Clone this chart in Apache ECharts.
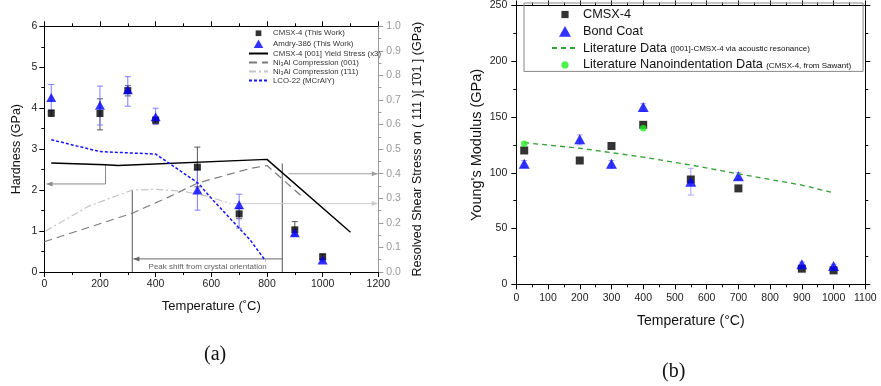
<!DOCTYPE html>
<html>
<head>
<meta charset="utf-8">
<script src="https://cdn.jsdelivr.net/npm/echarts@6/dist/echarts.min.js"></script>
<style>
  html, body { margin: 0; padding: 0; background: #fff; }
  #chart { width: 881px; height: 386px; }
</style>
</head>
<body>
<div id="chart"></div>
<script>
// ---- panel (a): hardness vs temperature ----
const tempA = [25, 200, 300, 400, 550, 700, 900, 1000];
const hardnessCmsx = [3.88, 3.87, 4.43, 3.71, 2.56, 1.42, 1.03, 0.37];
const hardnessCmsxLo = [3.8, 3.47, 4.3, 3.63, 2.08, 1.3, 0.9, 0.3];
const hardnessCmsxHi = [3.95, 4.23, 4.55, 3.78, 3.05, 1.55, 1.23, 0.44];
const hardnessAmdry = [4.26, 4.07, 4.45, 3.79, 2.0, 1.64, 0.96, 0.29];
const hardnessAmdryLo = [3.95, 3.59, 4.05, 3.6, 1.51, 1.07, 0.88, 0.25];
const hardnessAmdryHi = [4.58, 4.54, 4.77, 4.0, 2.5, 1.9, 1.05, 0.33];

const yieldT = [25, 220, 265, 800, 1100];
const yieldH = [2.66, 2.62, 2.6, 2.75, 0.97];
const ni3al001T = [0, 314, 450, 550, 740, 800, 930];
const ni3al001H = [0.74, 1.43, 1.84, 2.17, 2.53, 2.6, 1.82];
const ni3al111T = [5, 160, 316, 400, 500, 580, 670];
const ni3al111H = [1.0, 1.61, 2.0, 2.02, 1.97, 1.86, 1.67];
const lcoT = [25, 200, 400, 553, 600, 740, 795];
const lcoH = [3.23, 2.94, 2.88, 2.17, 1.8, 0.78, 0.27];

// guide lines drawn in (temperature, hardness) coordinates
const guideToHardness = [[220, 2.62], [220, 2.15], [8, 2.15]];
const peakShiftLeft = [[316, 2.0], [316, 0]];
const peakShiftRight = [[855, 2.65], [855, 0]];
const peakShiftArrow = [[855, 0.32], [320, 0.32]];
const rssArrowUpper = [[877, 2.4], [1198, 2.4]];
const rssArrowLower = [[680, 1.67], [1198, 1.67]];
const peakShiftLabel = [[587, 0.12]];

// ---- panel (b): Young's modulus vs temperature ----
const tempB = [25, 200, 300, 400, 550, 700, 900, 1000];
const modulusCmsx = [120, 111, 124, 143, 94, 86, 14, 12.5];
const modulusBond = [108, 130, 108, 159, 92, 97, 18, 16.5];
const modulusBondLo = [105, 125, 104, 155, 80, 94, 16, 15];
const modulusBondHi = [111, 134, 111, 162, 104, 100, 20, 18];
const litT = [25, 200, 400, 550, 700, 900, 1000];
const litE = [127, 122, 114, 107, 99, 89, 82];
const nanoT = [25, 400];
const nanoE = [126, 140];

const legendNotesB = {
  'Literature Data': '([001]-CMSX-4 via acoustic resonance)',
  'Literature Nanoindentation Data': '(CMSX-4, from Sawant)'
};

const FONT = '"Liberation Sans", Arial, sans-serif';
const chart = echarts.init(document.getElementById('chart'), null, { renderer: 'canvas' });

const zip = (xs, ys) => xs.map((x, i) => [x, ys[i]]);

function errorBars(xIdx, yIdx, xs, lo, hi, color) {
  return {
    type: 'custom', xAxisIndex: xIdx, yAxisIndex: yIdx, silent: true, z: 1,
    data: xs.map((x, i) => [x, lo[i], hi[i]]),
    encode: { x: 0, y: [1, 2] },
    renderItem: (params, api) => {
      const top = api.coord([api.value(0), api.value(2)]);
      const bot = api.coord([api.value(0), api.value(1)]);
      const st = { stroke: color, lineWidth: 1 };
      return {
        type: 'group', children: [
          { type: 'line', shape: { x1: top[0], y1: top[1], x2: bot[0], y2: bot[1] }, style: st },
          { type: 'line', shape: { x1: top[0] - 3, y1: top[1], x2: top[0] + 3, y2: top[1] }, style: st },
          { type: 'line', shape: { x1: bot[0] - 3, y1: bot[1], x2: bot[0] + 3, y2: bot[1] }, style: st }
        ]
      };
    }
  };
}

function guide(points, color, arrow) {
  return {
    type: 'custom', xAxisIndex: 0, yAxisIndex: 0, silent: true, z: 3,
    data: points,
    encode: { x: 0, y: 1 },
    renderItem: (params, api) => {
      const i = params.dataIndexInside;
      if (i === 0) return null;
      const p0 = api.coord([api.value(0, i - 1), api.value(1, i - 1)]);
      const p1 = api.coord([api.value(0), api.value(1)]);
      const children = [{ type: 'line', shape: { x1: p0[0], y1: p0[1], x2: p1[0], y2: p1[1] }, style: { stroke: color, lineWidth: 1 } }];
      if (arrow && i === params.dataInsideLength - 1) {
        const dx = p1[0] - p0[0], dy = p1[1] - p0[1];
        const len = Math.hypot(dx, dy) || 1;
        const ux = dx / len, uy = dy / len;
        const bx = p1[0] - ux * 6, by = p1[1] - uy * 6;
        children.push({
          type: 'polygon',
          shape: { points: [[p1[0], p1[1]], [bx - uy * 2.5, by + ux * 2.5], [bx + uy * 2.5, by - ux * 2.5]] },
          style: { fill: color }
        });
      }
      return { type: 'group', children };
    }
  };
}

// fresh axis-part objects for every axis
function axisParts(color, labels) {
  return {
    axisLine: { show: true, onZero: false, lineStyle: { color, width: 1 } },
    axisTick: { show: true, inside: false, length: 5, lineStyle: { color, width: 1 } },
    minorTick: { show: true, splitNumber: 2, length: 3, lineStyle: { color, width: 1 } },
    splitLine: { show: false },
    axisLabel: labels
  };
}
const labelStyle = (color, margin, formatter) => ({
  show: true, color, fontSize: 10.5, fontFamily: FONT, margin, formatter
});
const plain = v => String(v);
const gray = '#9a9a9a';
const noSymbol = { opacity: 0, color: 'rgba(0,0,0,0)', borderWidth: 0 };
// legend icons with a padded box so they keep their relative size
const iconSquare = 'path://M0,0M10,10M2,2L8,2L8,8L2,8Z';
const iconTriangle = 'path://M0,0M10,10M5,0.5L10,9.5L0,9.5Z';
const iconDot = 'path://M0,0M10,10M5,2A3,3,0,1,1,5,8A3,3,0,1,1,5,2Z';

const option = {
  animation: false,
  backgroundColor: '#fff',
  textStyle: { fontFamily: FONT },
  grid: [
    { left: 44.3, top: 26.3, width: 334, height: 245.7 },
    { left: 516.3, top: 2, width: 349, height: 282.3 }
  ],
  xAxis: [
    {
      type: 'value', gridIndex: 0, min: 0, max: 1200, interval: 200,
      name: 'Temperature (˚C)', nameLocation: 'middle', nameGap: 28,
      nameTextStyle: { fontSize: 13, color: '#111', fontFamily: FONT },
      ...axisParts('#000', labelStyle('#222', 7, plain))
    },
    {
      type: 'value', gridIndex: 0, position: 'top', min: 0, max: 1200, interval: 200,
      ...axisParts('#000', { show: false })
    },
    {
      type: 'value', gridIndex: 1, min: 0, max: 1100, interval: 100,
      name: 'Temperature (°C)', nameLocation: 'middle', nameGap: 30,
      nameTextStyle: { fontSize: 14, color: '#111', fontFamily: FONT },
      ...axisParts('#000', labelStyle('#222', 8, plain))
    },
    {
      type: 'value', gridIndex: 1, position: 'top', min: 0, max: 1100, interval: 100,
      ...axisParts('#000', { show: false })
    }
  ],
  yAxis: [
    {
      type: 'value', gridIndex: 0, min: 0, max: 6, interval: 1,
      name: 'Hardness (GPa)', nameLocation: 'middle', nameGap: 21,
      nameTextStyle: { fontSize: 12.5, color: '#111', fontFamily: FONT },
      ...axisParts('#000', labelStyle('#222', 7, plain))
    },
    {
      type: 'value', gridIndex: 0, position: 'right', min: 0, max: 1, interval: 0.1,
      name: 'Resolved Shear Stress on ( 111 )[ 1̄01 ] (GPa)', nameLocation: 'middle', nameGap: 33, nameRotate: 90,
      nameTextStyle: { fontSize: 12.5, color: '#111', fontFamily: FONT },
      ...axisParts(gray, labelStyle(gray, 8, v => v.toFixed(1)))
    },
    {
      type: 'value', gridIndex: 1, min: 0, max: 250, interval: 50,
      name: "Young's Modulus (GPa)", nameLocation: 'middle', nameGap: 32,
      nameTextStyle: { fontSize: 14.5, color: '#111', fontFamily: FONT },
      ...axisParts('#000', labelStyle('#222', 9, plain))
    },
    {
      type: 'value', gridIndex: 1, position: 'right', min: 0, max: 250, interval: 50,
      ...axisParts('#000', { show: false })
    }
  ],
  legend: [
    {
      data: [
        { name: 'CMSX-4 (This Work)', icon: iconSquare },
        { name: 'Amdry-386 (This Work)', icon: iconTriangle },
        { name: 'CMSX-4 [001] Yield Stress (x3)', itemStyle: noSymbol },
        { name: 'Ni₃Al Compression (001)', itemStyle: noSymbol },
        { name: 'Ni₃Al Compression (1̄11)', itemStyle: noSymbol },
        { name: 'LCO-22 (MCrAlY)', itemStyle: noSymbol }
      ],
      orient: 'vertical', left: 248, top: 28.5, padding: 0, symbolKeepAspect: true,
      itemWidth: 19, itemHeight: 9.5, itemGap: 1, selectedMode: false,
      textStyle: { fontSize: 7.8, color: '#333', fontFamily: FONT }
    },
    {
      data: [
        { name: 'CMSX-4', icon: iconSquare },
        { name: 'Bond Coat', icon: iconTriangle },
        { name: 'Literature Data', itemStyle: noSymbol },
        { name: 'Literature Nanoindentation Data', icon: iconDot }
      ],
      orient: 'vertical', left: 524, top: 3, padding: [5, 12, 0, 27], symbolKeepAspect: true,
      itemWidth: 26, itemHeight: 12, itemGap: 3.8, selectedMode: false,
      borderColor: '#888', borderWidth: 1,
      formatter: n => legendNotesB[n] ? `{m|${n}} {s|${legendNotesB[n]}}` : `{m|${n}}`,
      textStyle: {
        color: '#111', fontFamily: FONT,
        rich: {
          m: { fontSize: 12.7, lineHeight: 12, color: '#111', fontFamily: FONT },
          s: { fontSize: 8, lineHeight: 12, color: '#111', fontFamily: FONT, verticalAlign: 'bottom', padding: [0, 0, 1, 0] }
        }
      }
    }
  ],
  graphic: [
    { type: 'text', left: 204, top: 345, style: { text: '(a)', font: '20px "Liberation Serif", serif', fill: '#111' } },
    { type: 'text', left: 662, top: 362, style: { text: '(b)', font: '20px "Liberation Serif", serif', fill: '#111' } }
  ],
  series: [
    // panel (a)
    errorBars(0, 0, tempA, hardnessCmsxLo, hardnessCmsxHi, '#555'),
    errorBars(0, 0, tempA, hardnessAmdryLo, hardnessAmdryHi, '#7d7dff'),
    {
      name: 'CMSX-4 (This Work)', type: 'scatter', xAxisIndex: 0, yAxisIndex: 0,
      symbol: 'rect', symbolSize: 7, itemStyle: { color: '#000' },
      data: zip(tempA, hardnessCmsx), z: 4
    },
    {
      name: 'Amdry-386 (This Work)', type: 'scatter', xAxisIndex: 0, yAxisIndex: 0,
      symbol: 'triangle', symbolSize: [10, 9], itemStyle: { color: '#0000ff' },
      data: zip(tempA, hardnessAmdry), z: 5
    },
    {
      name: 'CMSX-4 [001] Yield Stress (x3)', type: 'line', xAxisIndex: 0, yAxisIndex: 0,
      symbol: 'none', lineStyle: { color: '#000', width: 1.4 }, itemStyle: { color: '#000' },
      data: zip(yieldT, yieldH), z: 3
    },
    {
      name: 'Ni₃Al Compression (001)', type: 'line', xAxisIndex: 0, yAxisIndex: 0,
      symbol: 'none', lineStyle: { color: '#7a7a7a', width: 1.2, type: [8, 5] }, itemStyle: { color: '#7a7a7a' },
      data: zip(ni3al001T, ni3al001H), z: 3
    },
    {
      name: 'Ni₃Al Compression (1̄11)', type: 'line', xAxisIndex: 0, yAxisIndex: 0,
      symbol: 'none', lineStyle: { color: '#c4c4c4', width: 1.2, type: [7, 3, 2, 3] }, itemStyle: { color: '#c4c4c4' },
      data: zip(ni3al111T, ni3al111H), z: 3
    },
    {
      name: 'LCO-22 (MCrAlY)', type: 'line', xAxisIndex: 0, yAxisIndex: 0,
      symbol: 'none', lineStyle: { color: '#1515ff', width: 1.5, type: [3, 2] }, itemStyle: { color: '#1515ff' },
      data: zip(lcoT, lcoH), z: 3
    },
    guide(guideToHardness, '#8a8a8a', true),
    guide(peakShiftLeft, '#555', false),
    guide(peakShiftRight, '#555', false),
    guide(peakShiftArrow, '#666', true),
    guide(rssArrowUpper, '#a0a0a0', true),
    guide(rssArrowLower, '#cccccc', true),
    {
      type: 'scatter', xAxisIndex: 0, yAxisIndex: 0, silent: true, symbolSize: 0,
      data: peakShiftLabel,
      label: {
        show: true, position: 'inside', formatter: 'Peak shift from crystal orientation',
        fontSize: 8, color: '#333', fontFamily: FONT
      }
    },
    // panel (b)
    errorBars(2, 2, tempB, modulusBondLo, modulusBondHi, '#a8a8ff'),
    {
      name: 'CMSX-4', type: 'scatter', xAxisIndex: 2, yAxisIndex: 2,
      symbol: 'rect', symbolSize: 8, itemStyle: { color: '#000' },
      data: zip(tempB, modulusCmsx), z: 4
    },
    {
      name: 'Bond Coat', type: 'scatter', xAxisIndex: 2, yAxisIndex: 2,
      symbol: 'triangle', symbolSize: [11, 10], itemStyle: { color: '#0000ff' },
      data: zip(tempB, modulusBond), z: 5
    },
    {
      name: 'Literature Data', type: 'line', xAxisIndex: 2, yAxisIndex: 2,
      symbol: 'none', lineStyle: { color: '#33a033', width: 1.3, type: [5, 4] }, itemStyle: { color: '#33a033' },
      data: zip(litT, litE), z: 6
    },
    {
      name: 'Literature Nanoindentation Data', type: 'scatter', xAxisIndex: 2, yAxisIndex: 2,
      symbol: 'circle', symbolSize: 6.5, itemStyle: { color: '#22ee22' },
      data: zip(nanoT, nanoE), z: 7
    }
  ]
};

chart.setOption(option);
</script>
</body>
</html>
